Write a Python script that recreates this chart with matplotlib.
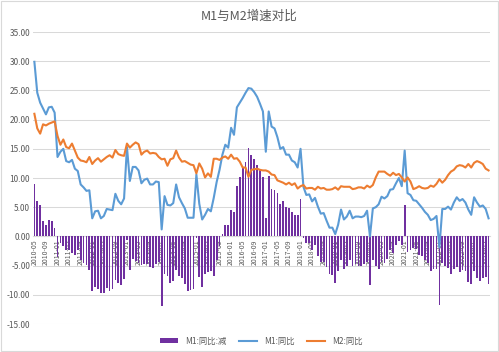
import numpy as np
import matplotlib
matplotlib.use("Agg")
import matplotlib.pyplot as plt
from matplotlib.patches import Rectangle

plt.rcParams['font.family'] = ['Noto Sans CJK SC', 'DejaVu Sans']

# months 2010-05 .. 2023-06
months = [f"{y}-{m:02d}" for y in range(2010, 2024) for m in range(1, 13)]
months = months[months.index("2010-05"):months.index("2023-06") + 1]

m1 = [29.9, 24.6, 22.9, 21.9, 20.9, 22.1, 22.2, 21.2,
      13.6, 14.5, 15.0, 12.9, 12.7, 13.1, 11.6, 11.2, 8.9, 8.4, 7.8, 7.9,
      3.1, 4.3, 4.4, 3.1, 3.5, 4.7, 4.6, 4.5, 7.3, 6.1, 5.5, 6.5,
      15.3, 9.5, 11.9, 11.9, 11.3, 9.1, 9.7, 9.9, 8.9, 8.9, 9.4, 9.3,
      1.2, 6.9, 5.4, 5.3, 5.7, 8.9, 6.7, 5.7, 4.8, 3.2, 3.2, 3.2,
      10.6, 5.6, 2.9, 3.7, 4.7, 4.3, 6.6, 9.3, 11.4, 14.0, 15.7, 15.2,
      18.6, 17.4, 22.1, 22.9, 23.7, 24.6, 25.4, 25.3, 24.7, 23.9, 22.7, 21.4,
      14.5, 21.4, 18.8, 18.5, 17.0, 15.0, 15.3, 14.0, 14.0, 13.0, 12.7, 11.8,
      15.0, 8.5, 7.1, 7.2, 6.0, 6.6, 5.1, 3.9, 4.0, 2.7, 1.5, 1.5,
      0.4, 2.0, 4.6, 2.9, 3.4, 4.4, 3.1, 3.4, 3.4, 3.3, 3.5, 4.4,
      0.0, 4.8, 5.0, 5.5, 6.8, 6.5, 6.9, 8.0, 8.1, 9.1, 10.0, 8.6,
      14.7, 7.4, 7.1, 6.2, 6.1, 5.5, 4.9, 4.2, 3.7, 2.8, 3.0, 3.5,
      -1.9, 4.7, 4.7, 5.1, 4.6, 5.8, 6.7, 6.1, 6.4, 5.8, 4.6, 3.7,
      6.7, 5.8, 5.1, 5.3, 4.7, 3.1]

m2 = [21.0, 18.5, 17.6, 19.2, 19.0, 19.3, 19.5, 19.7,
      17.2, 15.7, 16.6, 15.3, 15.1, 15.9, 14.7, 13.5, 13.0, 12.9, 12.7, 13.6,
      12.4, 13.0, 13.4, 12.8, 13.2, 13.6, 13.9, 13.5, 14.8, 14.1, 13.9, 13.8,
      15.9, 15.2, 15.7, 16.1, 15.8, 14.0, 14.5, 14.7, 14.2, 14.3, 14.2, 13.6,
      13.2, 13.3, 12.1, 13.2, 13.4, 14.7, 13.5, 12.8, 12.9, 12.6, 12.3, 12.2,
      10.8, 12.5, 11.6, 10.1, 10.8, 10.2, 13.3, 13.3, 13.1, 13.5, 13.7, 13.3,
      14.0, 13.3, 13.4, 12.8, 11.8, 11.8, 10.2, 11.4, 11.5, 11.6, 11.4, 11.3,
      11.3, 11.1, 10.6, 10.5, 9.6, 9.4, 9.2, 8.9, 9.2, 8.8, 9.1, 8.2,
      8.6, 8.8, 8.2, 8.3, 8.3, 8.0, 8.5, 8.2, 8.3, 8.0, 8.0, 8.1,
      8.4, 8.0, 8.6, 8.5, 8.5, 8.5, 8.1, 8.2, 8.4, 8.4, 8.2, 8.7,
      8.4, 8.8, 10.1, 11.1, 11.1, 11.1, 10.7, 10.4, 10.9, 10.5, 10.7, 10.1,
      9.4, 10.1, 9.4, 8.1, 8.3, 8.6, 8.3, 8.2, 8.3, 8.7, 8.5, 9.0,
      9.8, 9.2, 9.7, 10.5, 11.1, 11.4, 12.0, 12.2, 12.1, 11.8, 12.4, 11.8,
      12.6, 12.9, 12.7, 12.4, 11.6, 11.3]

# M1:同比:减 (M1 minus M2)
diff = [8.9, 6.1, 5.3, 2.7, 1.9, 2.8, 2.7, 1.5,
        -3.6, -1.2, -1.6, -2.4, -2.4, -2.8, -3.1, -2.3, -4.1, -4.5, -4.9, -5.7,
        -9.3, -8.7, -9.0, -9.7, -9.7, -8.9, -9.3, -9.0, -7.5, -8.0, -8.4, -7.3,
        -0.6, -5.7, -3.8, -4.2, -4.5, -4.9, -4.8, -4.8, -5.3, -5.4, -4.8, -4.3,
        -12.0, -6.4, -6.7, -7.9, -7.7, -5.8, -6.8, -7.1, -8.1, -9.4, -9.1, -9.0,
        -0.2, -6.9, -8.7, -6.4, -6.1, -5.9, -6.7, -4.0, -1.7, 0.5, 2.0, 1.9,
        4.6, 4.1, 8.7, 10.1, 11.9, 12.8, 15.2, 13.9, 13.2, 12.3, 11.3, 10.1,
        3.2, 10.3, 8.2, 8.0, 7.4, 5.6, 6.1, 5.1, 4.8, 4.2, 3.6, 3.6,
        6.4, -0.3, -1.1, -1.1, -2.3, -1.4, -3.4, -4.3, -4.3, -5.3, -6.5, -6.6,
        -8.0, -6.0, -4.0, -5.6, -5.1, -4.1, -5.0, -4.8, -5.0, -5.1, -4.7, -4.3,
        -8.4, -4.0, -5.1, -5.6, -4.3, -4.6, -3.8, -2.4, -2.8, -1.4, -0.7, -1.5,
        5.3, -2.7, -2.3, -1.9, -2.2, -3.1, -3.4, -4.0, -4.6, -5.9, -5.5, -5.5,
        -11.7, -4.5, -5.0, -5.4, -6.5, -5.6, -5.3, -6.1, -5.7, -6.0, -7.8, -8.1,
        -5.9, -7.1, -7.6, -7.1, -6.9, -8.2]

yticks = [-15, -10, -5, 0, 5, 10, 15, 20, 25, 30, 35]

fig = plt.figure(figsize=(4.99, 3.52), dpi=100)
fig.patches.append(Rectangle((0.002, 0.003), 0.996, 0.994, transform=fig.transFigure,
                             fill=False, edgecolor='#D9D9D9', linewidth=0.8))
ax = fig.add_axes([0.066, 0.0795, 0.916, 0.8295])

x = np.arange(len(months))
b = ax.bar(x, diff, width=0.6, color='#7030A0', label='M1:同比:减', zorder=2)
l1, = ax.plot(x, m1, color='#5B9BD5', lw=1.5, label='M1:同比', zorder=3)
l2, = ax.plot(x, m2, color='#ED7D31', lw=1.5, label='M2:同比', zorder=3)

ax.set_xlim(-0.5, len(months) - 0.5)
ax.set_ylim(-15, 35)
ax.set_yticks(yticks)
ax.set_yticklabels([f"{v:.2f}" for v in yticks], fontsize=6, color='#595959')
ax.grid(axis='y', color='#D9D9D9', lw=0.75, zorder=0)
ax.set_axisbelow(True)

for s in ['top', 'right', 'left']:
    ax.spines[s].set_visible(False)
ax.spines['bottom'].set_position(('data', 0))
ax.spines['bottom'].set_color('#D9D9D9')
ax.spines['bottom'].set_zorder(1)

ax.set_xticks(x[::4])
ax.set_xticklabels(months[::4], rotation=90, fontsize=5, color='#595959')
ax.tick_params(axis='both', length=0, pad=2)

fig.text(0.5, 0.955, 'M1与M2增速对比', ha='center', va='center', fontsize=9, color='#595959')

ax.legend(handles=[b, l1, l2], loc='lower center', bbox_to_anchor=(0.5, -0.1), ncol=3,
          frameon=False, fontsize=6, labelcolor='#595959', handlelength=2.2,
          handleheight=0.6, columnspacing=1.5)

fig.savefig('out.png', dpi=100)
